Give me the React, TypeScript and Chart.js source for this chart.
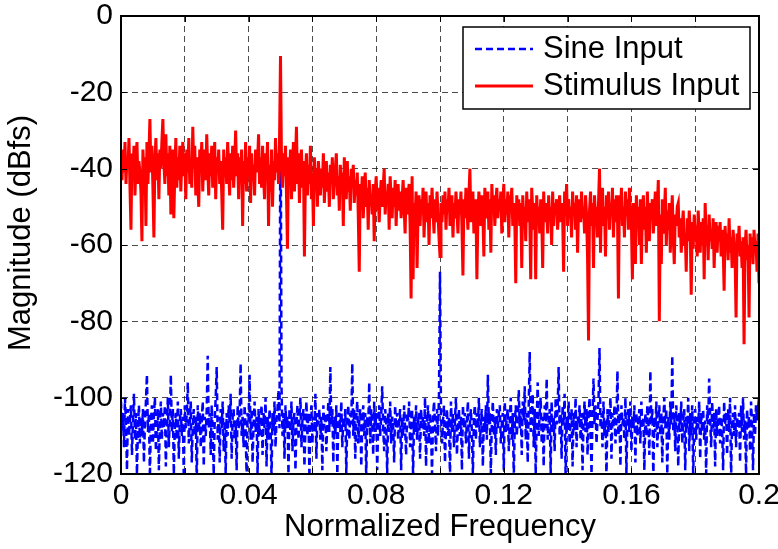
import { useEffect, useRef } from "react";
import { Chart, registerables } from "chart.js";

Chart.register(...registerables);

// Frequency grid: 641 bins from 0 to 0.2 (normalized)
const FREQ_STEP = 0.0003125;

const xTickLabels = ["0", "0.04", "0.08", "0.12", "0.16", "0.2"];
const yTickValues = [0, -20, -40, -60, -80, -100, -120];
const legendLabels = ["Sine Input", "Stimulus Input"];
const xTitle = "Normalized Frequency";
const yTitle = "Magnitude (dBfs)";

// Sine input spectrum (dBfs)
const sineInput = [
  -101, -109, -104, -113, -100, -107, -119, -103, -110, -105, -102, -115, -106, -99, -111, -104, -120, -108, -102, -112,
  -105, -110, -103, -117, -107, -101, -94, -109, -104, -121, -106, -102, -112, -105, -100, -114, -108, -103, -119, -106,
  -101, -111, -104, -108, -102, -118, -106, -100, -113, -105, -94, -109, -103, -120, -107, -104, -111, -101, -116, -106,
  -103, -110, -105, -121, -102, -108, -104, -96, -112, -106, -101, -117, -107, -103, -110, -105, -122, -102, -109, -104,
  -113, -106, -101, -118, -105, -110, -103, -89, -108, -104, -115, -102, -109, -120, -106, -100, -92, -111, -105, -117,
  -103, -108, -101, -114, -106, -120, -104, -110, -102, -107, -99, -116, -105, -103, -111, -106, -119, -102, -108, -104,
  -91, -110, -105, -113, -102, -108, -121, -104, -106, -94, -111, -103, -117, -107, -101, -109, -105, -120, -103, -110,
  -106, -102, -115, -104, -108, -100, -118, -105, -111, -103, -107, -121, -104, -109, -101, -113, -106, -103, -98, -108,
  -11, -97, -110, -104, -116, -102, -108, -105, -120, -103, -109, -101, -114, -106, -104, -119, -107, -102, -111, -105,
  -100, -113, -106, -103, -118, -108, -101, -110, -104, -121, -106, -102, -112, -105, -109, -99, -116, -104, -107, -103,
  -111, -105, -119, -102, -108, -104, -114, -106, -101, -109, -92, -107, -103, -117, -105, -110, -102, -120, -106, -104,
  -109, -101, -113, -105, -108, -103, -120, -106, -102, -111, -104, -107, -91, -110, -103, -116, -105, -101, -112, -106,
  -103, -118, -107, -102, -110, -104, -121, -105, -108, -96, -112, -103, -106, -115, -101, -109, -104, -119, -107, -102,
  -110, -105, -97, -108, -114, -103, -106, -120, -104, -109, -101, -112, -105, -107, -117, -102, -108, -104, -111, -106,
  -103, -119, -105, -110, -102, -108, -115, -104, -106, -101, -113, -107, -103, -121, -105, -109, -102, -111, -106, -104,
  -116, -103, -108, -105, -110, -100, -118, -106, -102, -112, -104, -109, -120, -105, -101, -107, -114, -103, -110, -99,
  -67, -104, -112, -106, -102, -117, -108, -103, -110, -105, -121, -101, -109, -104, -113, -106, -100, -115, -107, -103,
  -110, -105, -119, -102, -108, -104, -112, -106, -101, -116, -107, -103, -109, -120, -105, -102, -111, -104, -108, -100,
  -113, -106, -103, -118, -105, -109, -102, -111, -94, -107, -104, -120, -106, -101, -110, -105, -115, -103, -108, -104,
  -102, -112, -107, -104, -119, -101, -109, -105, -103, -114, -106, -100, -111, -104, -121, -107, -102, -110, -105, -98,
  -108, -103, -115, -101, -106, -97, -111, -104, -117, -102, -88, -109, -105, -99, -113, -103, -120, -106, -96, -110,
  -104, -100, -112, -105, -118, -102, -108, -95, -111, -106, -103, -120, -101, -109, -105, -114, -100, -107, -103, -92,
  -110, -104, -116, -102, -107, -99, -121, -105, -108, -101, -112, -106, -103, -118, -104, -109, -100, -113, -105, -107,
  -102, -111, -104, -119, -106, -101, -109, -103, -115, -105, -100, -108, -120, -104, -95, -107, -102, -112, -106, -101,
  -87, -108, -104, -113, -101, -110, -106, -121, -103, -109, -105, -100, -116, -104, -108, -102, -112, -106, -93, -110,
  -104, -118, -102, -107, -105, -111, -100, -120, -106, -103, -109, -101, -114, -105, -108, -102, -117, -104, -110, -106,
  -103, -112, -101, -108, -105, -119, -104, -110, -102, -106, -115, -93, -107, -103, -121, -105, -109, -101, -113, -106,
  -102, -110, -104, -117, -106, -100, -108, -103, -120, -105, -111, -101, -107, -89, -109, -104, -114, -102, -106, -118,
  -104, -109, -101, -112, -106, -103, -119, -105, -108, -100, -114, -104, -110, -102, -121, -106, -103, -111, -105, -108,
  -101, -116, -104, -109, -103, -111, -106, -120, -102, -107, -95, -105, -113, -101, -108, -104, -118, -103, -110, -106,
  -102, -112, -105, -108, -119, -101, -107, -104, -115, -103, -109, -100, -121, -106, -104, -110, -102, -113, -105, -108,
  -104, -117, -102, -109, -100, -111, -106, -120, -103, -108, -105, -114, -101, -107, -119, -104, -110, -102, -106, -103,
  -105,
];

// Stimulus input spectrum (dBfs)
const stimulusInput = [
  -38, -43, -35, -41, -33, -44, -37, -40, -32, -45, -56, -36, -42, -34, -47, -39, -33, -44, -38, -41,
  -46, -59, -35, -42, -37, -55, -33, -44, -36, -27, -41, -34, -45, -58, -38, -32, -43, -36, -48, -35,
  -40, -33, -27, -38, -44, -31, -42, -36, -47, -34, -52, -39, -35, -53, -41, -32, -45, -37, -43, -34,
  -46, -38, -33, -42, -36, -48, -35, -41, -32, -44, -39, -45, -29, -40, -34, -47, -37, -43, -50, -35,
  -41, -33, -46, -38, -35, -43, -31, -40, -47, -36, -42, -34, -45, -39, -33, -48, -37, -41, -35, -44,
  -38, -46, -56, -35, -42, -37, -44, -33, -40, -47, -36, -43, -34, -45, -39, -30, -42, -36, -48, -37,
  -41, -35, -55, -38, -44, -33, -46, -37, -42, -34, -49, -36, -43, -39, -47, -35, -41, -38, -31, -44,
  -37, -45, -34, -42, -48, -36, -40, -33, -55, -39, -46, -35, -50, -38, -43, -32, -41, -36, -44, -33,
  -10.5, -38, -45, -36, -42, -34, -47, -61, -37, -43, -35, -48, -39, -33, -46, -38, -29, -44, -36, -49,
  -40, -35, -45, -38, -63, -42, -36, -47, -39, -44, -34, -48, -41, -55, -37, -45, -40, -50, -38, -43,
  -47, -40, -45, -36, -49, -42, -38, -46, -41, -50, -39, -44, -37, -48, -43, -40, -36, -47, -42, -51,
  -39, -45, -41, -55, -37, -44, -48, -38, -46, -42, -51, -40, -45, -39, -49, -43, -47, -41, -52, -67,
  -44, -48, -42, -53, -46, -41, -50, -45, -56, -43, -49, -47, -52, -44, -59, -46, -42, -51, -45, -54,
  -47, -43, -50, -45, -40, -52, -46, -49, -44, -56, -42, -48, -53, -45, -50, -43, -55, -47, -44, -51,
  -46, -53, -48, -43, -50, -57, -45, -52, -47, -44, -55, -74, -42, -69, -49, -53, -46, -66, -51, -47,
  -55, -48, -52, -45, -58, -50, -46, -54, -49, -60, -47, -53, -45, -51, -57, -48, -54, -46, -52, -58,
  -63, -49, -54, -47, -52, -46, -56, -48, -51, -45, -55, -50, -47, -58, -49, -53, -46, -51, -57, -48,
  -52, -46, -55, -68, -48, -53, -45, -50, -56, -47, -40, -54, -49, -46, -57, -51, -48, -69, -53, -46,
  -50, -55, -47, -52, -63, -45, -53, -49, -46, -56, -48, -62, -44, -51, -47, -55, -49, -45, -53, -48,
  -51, -46, -57, -49, -44, -54, -48, -52, -46, -58, -47, -50, -45, -55, -49, -53, -70, -47, -52, -48,
  -55, -49, -66, -47, -53, -50, -59, -46, -54, -48, -52, -69, -45, -51, -56, -49, -69, -47, -53, -50,
  -57, -48, -52, -66, -46, -54, -49, -51, -57, -47, -53, -50, -60, -46, -55, -49, -52, -48, -56, -51,
  -47, -54, -49, -52, -67, -46, -51, -44, -55, -48, -53, -50, -58, -46, -52, -49, -56, -47, -62, -50,
  -48, -54, -46, -53, -50, -57, -47, -52, -63, -85, -51, -46, -55, -49, -66, -47, -53, -50, -58, -49,
  -40, -62, -48, -45, -55, -50, -63, -47, -53, -46, -56, -49, -52, -45, -58, -48, -54, -47, -51, -74,
  -47, -53, -45, -55, -50, -58, -46, -52, -48, -56, -45, -51, -54, -69, -49, -53, -65, -47, -55, -50,
  -60, -48, -65, -52, -47, -56, -50, -62, -46, -54, -59, -49, -52, -48, -57, -51, -46, -55, -50, -43,
  -80, -52, -65, -48, -57, -53, -45, -60, -51, -56, -49, -62, -54, -47, -58, -65, -52, -55, -50, -49,
  -58, -53, -62, -55, -51, -60, -57, -67, -53, -59, -51, -56, -73, -54, -61, -52, -58, -55, -63, -51,
  -57, -62, -54, -60, -53, -69, -49, -58, -55, -64, -52, -59, -56, -61, -53, -66, -57, -54, -62, -55,
  -59, -54, -63, -56, -60, -72, -55, -61, -57, -64, -53, -62, -58, -66, -56, -60, -63, -79, -57, -61,
  -55, -63, -59, -66, -58, -86, -61, -56, -64, -60, -79, -57, -62, -58, -65, -56, -61, -59, -67, -57,
  -70,
];

const FONT = "'Liberation Sans', Arial, Helvetica, sans-serif";
const TICK_FONT_SIZE = 30;
const TITLE_FONT_SIZE = 31;

const overlayPlugin = {
  id: "matlabOverlay",
  afterDatasetsDraw(chart: any) {
    const { ctx, chartArea } = chart;
    const { left, right, top, bottom } = chartArea;
    const xs = chart.scales.x;
    const ys = chart.scales.y;
    const tl = 6;
    ctx.save();
    ctx.strokeStyle = "#000";
    ctx.lineWidth = 1;
    ctx.setLineDash([]);
    ctx.beginPath();
    for (let i = 0; i <= 10; i++) {
      const px = Math.round(xs.getPixelForValue(i * 0.02)) + 0.5;
      ctx.moveTo(px, bottom);
      ctx.lineTo(px, bottom - tl);
      ctx.moveTo(px, top);
      ctx.lineTo(px, top + tl);
    }
    for (const v of yTickValues) {
      const py = Math.round(ys.getPixelForValue(v)) + 0.5;
      ctx.moveTo(left, py);
      ctx.lineTo(left + tl, py);
      ctx.moveTo(right, py);
      ctx.lineTo(right - tl, py);
    }
    ctx.stroke();
    ctx.lineWidth = 2;
    ctx.strokeRect(left, top, right - left, bottom - top);
    ctx.restore();
  },
  afterDraw(chart: any) {
    const { ctx, chartArea } = chart;
    ctx.save();
    ctx.fillStyle = "#000";
    ctx.font = `${TITLE_FONT_SIZE}px ${FONT}`;
    // x title
    ctx.textAlign = "center";
    ctx.textBaseline = "middle";
    ctx.fillText(xTitle, (chartArea.left + chartArea.right) / 2, 527);
    // y title
    ctx.save();
    ctx.translate(21, 233);
    ctx.rotate(-Math.PI / 2);
    ctx.fillText(yTitle, 0, 0);
    ctx.restore();

    // legend
    const bx = 463, by = 27, bw = 287, bh = 82;
    ctx.fillStyle = "#fff";
    ctx.fillRect(bx, by, bw, bh);
    ctx.strokeStyle = "#000";
    ctx.lineWidth = 1.5;
    ctx.strokeRect(bx, by, bw, bh);
    const rows = [
      { y: 49, color: "#0000ff", dash: [7, 4], width: 2.5 },
      { y: 86, color: "#ff0000", dash: [], width: 3 },
    ];
    rows.forEach((r, i) => {
      ctx.beginPath();
      ctx.strokeStyle = r.color;
      ctx.lineWidth = r.width;
      ctx.setLineDash(r.dash);
      ctx.moveTo(475, r.y);
      ctx.lineTo(533, r.y);
      ctx.stroke();
      ctx.setLineDash([]);
      ctx.fillStyle = "#000";
      ctx.textAlign = "left";
      ctx.textBaseline = "middle";
      ctx.fillText(legendLabels[i], 543, r.y);
    });
    ctx.restore();
  },
};

export default function App() {
  const canvasRef = useRef<HTMLCanvasElement | null>(null);

  useEffect(() => {
    document.body.style.margin = "0";
    const canvas = canvasRef.current;
    if (!canvas) return;

    const sinePts = sineInput.map((y, i) => ({ x: i * FREQ_STEP, y }));
    const stimPts = stimulusInput.map((y, i) => ({ x: i * FREQ_STEP, y }));

    const fitY = (scale: any) => {
      scale.width = 121;
      scale.paddingTop = 0;
      scale.paddingBottom = 0;
    };
    const fitX = (scale: any) => {
      scale.height = 75;
      scale.paddingLeft = 0;
      scale.paddingRight = 0;
    };

    const chart = new Chart(canvas, {
      type: "line",
      data: {
        datasets: [
          {
            label: legendLabels[0],
            data: sinePts,
            borderColor: "#0000ff",
            borderWidth: 2.5,
            borderDash: [7, 4],
            pointRadius: 0,
            tension: 0,
            fill: false,
            order: 1,
          },
          {
            label: legendLabels[1],
            data: stimPts,
            borderColor: "#ff0000",
            borderWidth: 3,
            pointRadius: 0,
            tension: 0,
            fill: false,
            order: 0,
          },
        ],
      },
      options: {
        animation: false,
        responsive: false,
        devicePixelRatio: 1,
        layout: { padding: { left: 0, top: 16, right: 19, bottom: 0 } },
        plugins: {
          legend: { display: false },
          tooltip: { enabled: false },
          title: { display: false },
        },
        scales: {
          x: {
            type: "linear",
            min: 0,
            max: 0.2,
            afterFit: fitX,
            ticks: {
              stepSize: 0.02,
              autoSkip: false,
              maxRotation: 0,
              padding: 4,
              color: "#000",
              font: { family: FONT, size: TICK_FONT_SIZE },
              callback: (value: any) => {
                const k = Math.round(Number(value) / 0.02);
                if (k % 2 !== 0) return "";
                return xTickLabels[k / 2] ?? "";
              },
            },
            grid: {
              color: "rgba(0,0,0,0.7)",
              lineWidth: 1,
              drawTicks: false,
            },
            border: { display: true, color: "#000", width: 2, dash: [6, 4] },
          },
          y: {
            type: "linear",
            min: -120,
            max: 0,
            afterFit: fitY,
            ticks: {
              stepSize: 20,
              autoSkip: false,
              padding: 8,
              color: "#000",
              font: { family: FONT, size: TICK_FONT_SIZE },
              callback: (value: any) => String(value),
            },
            grid: {
              color: "rgba(0,0,0,0.7)",
              lineWidth: 1,
              drawTicks: false,
            },
            border: { display: true, color: "#000", width: 2, dash: [6, 4] },
          },
        },
      },
      plugins: [overlayPlugin],
    });

    return () => {
      chart.destroy();
    };
  }, []);

  return (
    <div style={{ position: "absolute", left: 0, top: 0, width: 778, height: 549, background: "#fff" }}>
      <canvas ref={canvasRef} width={778} height={549} style={{ display: "block", width: 778, height: 549 }} />
    </div>
  );
}
